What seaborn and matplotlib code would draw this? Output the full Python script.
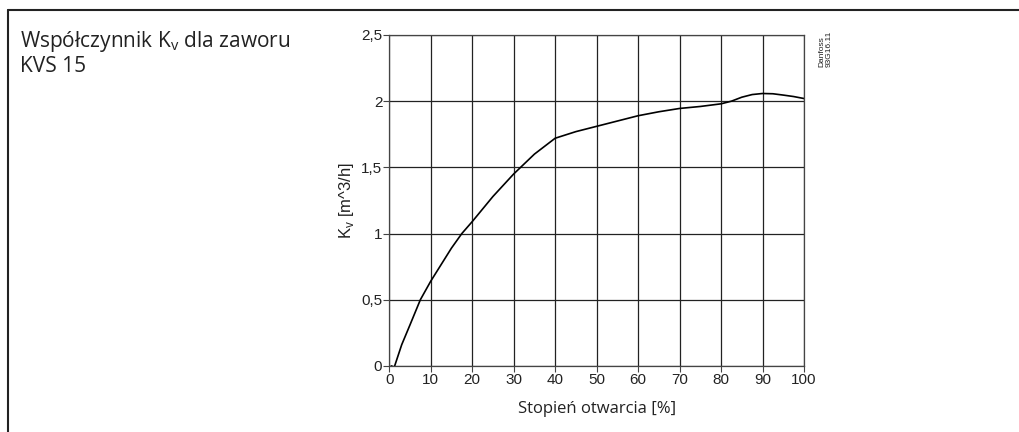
#!/usr/bin/env python
# -*- coding: utf-8 -*-
"""Kv curve of the KVS 15 valve versus opening degree."""
import pandas as pd
import matplotlib
matplotlib.use('Agg')
import matplotlib.pyplot as plt
from matplotlib.lines import Line2D
from matplotlib.ticker import FuncFormatter
import seaborn as sns

# values
opening = [0.5, 1.2, 3, 5, 7.5, 10, 15, 17.5, 20, 25, 30, 35, 40, 45,
           50, 55, 60, 65, 70, 75, 80, 82.5, 85, 87.5, 90, 92.5, 95,
           97.5, 100]
kv = [0.0, -0.01, 0.16, 0.31, 0.5, 0.64, 0.89, 1.0, 1.09, 1.28, 1.45,
      1.6, 1.72, 1.77, 1.81, 1.85, 1.89, 1.92, 1.945, 1.96, 1.98, 2.0,
      2.03, 2.05, 2.058, 2.056, 2.046, 2.035, 2.02]
x_ticks = [0, 10, 20, 30, 40, 50, 60, 70, 80, 90, 100]
y_ticks = [0, 0.5, 1, 1.5, 2, 2.5]

title = 'Współczynnik K$_\\mathregular{v}$ dla zaworu\nKVS 15'
x_label = 'Stopień otwarcia [%]'
y_label = 'K$_\\mathregular{v}$ [m^3/h]'
stamp = 'Danfoss\n93G16.11'


def plot_kv():
    sns.set_theme(style='white')
    plt.rcParams['font.family'] = ['Liberation Sans', 'DejaVu Sans']

    df = pd.DataFrame({'opening': opening, 'kv': kv})

    fig = plt.figure(figsize=(10.19, 4.32), dpi=100)
    ax = fig.add_axes([0.382, 0.153, 0.407, 0.766])
    sns.lineplot(data=df, x='opening', y='kv', ax=ax, color='black',
                 linewidth=1.2, sort=False)

    ax.set_xlim(0, 100)
    ax.set_ylim(0, 2.5)
    ax.set_xticks(x_ticks)
    ax.set_yticks(y_ticks)
    ax.yaxis.set_major_formatter(
        FuncFormatter(lambda v, _: ('%g' % v).replace('.', ',')))
    ax.grid(True, color='#222222', linewidth=0.9)
    for sp in ax.spines.values():
        sp.set_color('#444444')
        sp.set_linewidth(0.9)
    ax.tick_params(axis='both', direction='out', length=4, width=0.8,
                   color='#444444', labelsize=11, labelcolor='#222222',
                   pad=1, bottom=True, left=True)

    ax.set_xlabel(x_label, family=['Open Sans', 'DejaVu Sans'],
                  fontsize=12, color='#222222', labelpad=10)
    ax.set_ylabel(y_label, fontsize=12, color='#222222', labelpad=4)

    fig.text(0.0196, 0.934, title, family=['Open Sans', 'DejaVu Sans'],
             fontsize=15, color='#222222', va='top', ha='left',
             linespacing=1.15)
    fig.text(0.803, 0.928, stamp, fontsize=6, rotation=90, va='top',
             ha='left', color='#222222', linespacing=1.0)

    # frame lines (top and left) like the datasheet box
    fig.add_artist(Line2D([0.008, 1.0], [0.977, 0.977], color='#222222',
                          linewidth=1.5, transform=fig.transFigure))
    fig.add_artist(Line2D([0.008, 0.008], [0.0, 0.977], color='#222222',
                          linewidth=1.5, transform=fig.transFigure))

    fig.savefig('out.png', dpi=100, facecolor='white')


if __name__ == '__main__':
    plot_kv()
